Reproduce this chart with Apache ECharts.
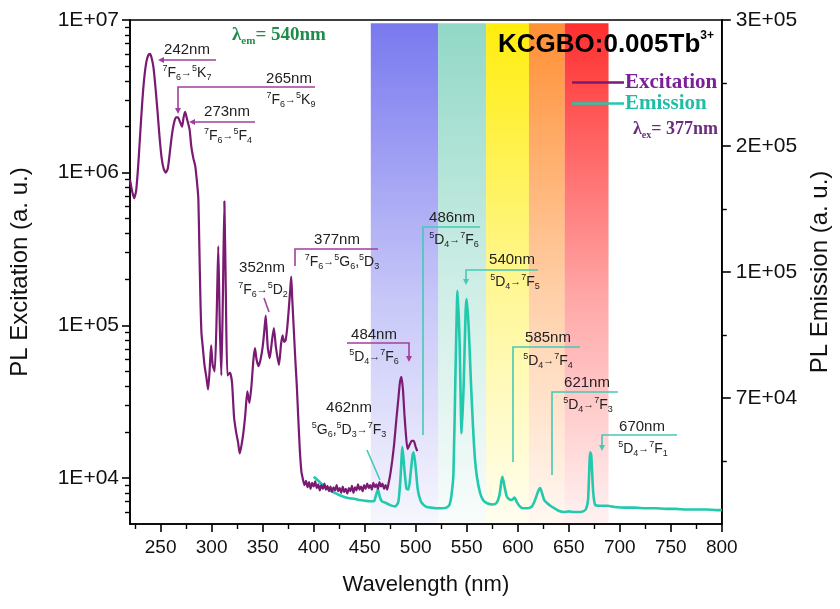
<!DOCTYPE html>
<html><head><meta charset="utf-8">
<script src="https://cdn.jsdelivr.net/npm/echarts@6/dist/echarts.min.js"></script>
<style>html,body{margin:0;padding:0;background:#fff}#c{width:840px;height:609px}</style>
</head><body><div id="c"></div>
<script>
// ---------- data ----------
const exWavelength = [220,222,224,226,228,230,232,234,236,238,239.5,241,243,245,247,249,251,253,255,257,259,261,263,265,267,269,271,272.5,274,275.5,277,278.5,280,282,284,286,287,288,289,290,291.5,293,295,296.5,298,299.5,301,303,305,306.5,308,309.5,311,312.5,314,315.5,318,320,322,324,326,327.5,329,331,333,335,337,339,341,342.5,344,346,348,350,351.5,353,355,357,359,361,363,366,368,369.5,371,372.5,374,375.5,377,378,379,380.5,382,383.5,385,386.5,388,389.5,391,392.5,394,395.5,397,398.5,400,401.5,403,404.5,406,407.5,409,410.5,412,413.5,415,416.5,418,419.5,421,422.5,424,425.5,427,428.5,430,431.5,433,434.5,436,437.5,439,440.5,442,443.5,445,446.5,448,449.5,451,452.5,454,455.5,457,458.5,460,461.5,463,464.5,466,467.5,469,470.5,472,473.5,475,477,479,481,483,484.5,486,487.5,489,490.5,492,494,496,498,500,501.5];
const exIntensity = [900000,760000,680000,760000,1100000,1800000,2900000,4200000,5300000,5900000,6000000,5700000,4900000,3600000,2500000,1700000,1250000,1060000,1000000,1060000,1350000,1750000,2100000,2300000,2300000,2150000,2000000,2300000,2500000,2300000,2100000,1900000,1500000,1250000,1100000,820000,670000,320000,150000,90000,70000,55000,45000,38000,50000,74000,55000,50000,120000,330000,100000,47000,150000,650000,150000,47000,49000,42000,25000,20000,17000,14500,16000,19500,26000,37000,31000,40000,60000,71000,60000,54000,60000,72000,90000,116000,72000,61000,78000,96000,72000,55000,75000,86000,78000,80000,95000,125000,170000,209000,150000,95000,60000,40000,24000,15000,11000,9800,9000,9600,8700,9400,8500,9300,8800,9500,8600,9100,8300,9000,8500,9200,8400,8900,8200,8800,8100,8700,8300,9000,8200,8600,8000,8800,8100,8500,7900,8600,8200,8900,8000,8700,8300,9100,8400,8800,8200,9000,8500,9200,8600,9000,8400,9300,8700,9100,8500,9400,8800,9200,8500,9000,8400,9300,10500,13000,17000,24000,33000,42000,46000,38000,26000,19000,15500,16500,17500,17500,16000,15000];

const emWavelength = [400,405,410,415,420,425,430,435,440,445,450,455,459,461,463,465,467,470,475,480,483,485,487,489,491,493,495,497,498,500,502,505,508,511,515,520,525,530,533,535,537,539,541,543,545,547,549,550,552,554,556,558,560,563,566,570,575,579,582,584,585,587,589,591,594,597,599,602,605,610,614,617,620,622,624,626,629,632,636,640,645,650,655,660,664,667,669,671,672,674,676,680,688,695,705,715,725,735,745,755,765,775,785,795,800];
const emIntensity = [0.75,0.68,0.60,0.54,0.50,0.46,0.43,0.41,0.40,0.38,0.37,0.36,0.36,0.45,0.55,0.42,0.36,0.34,0.30,0.28,0.35,0.70,1.22,0.85,0.56,0.55,0.80,1.10,1.14,0.90,0.55,0.36,0.30,0.27,0.26,0.25,0.25,0.26,0.30,0.45,0.80,2.40,3.70,2.90,1.44,2.20,3.40,3.57,3.10,2.30,1.60,1.05,0.75,0.50,0.38,0.33,0.31,0.33,0.45,0.68,0.75,0.60,0.45,0.40,0.38,0.42,0.35,0.28,0.25,0.25,0.28,0.38,0.52,0.57,0.48,0.38,0.33,0.29,0.25,0.21,0.19,0.20,0.19,0.19,0.20,0.24,0.40,1.14,1.10,0.50,0.30,0.29,0.29,0.27,0.26,0.26,0.25,0.25,0.24,0.24,0.23,0.23,0.23,0.22,0.22];

const xTickValues = [250,300,350,400,450,500,550,600,650,700,750,800];
const xMinorTickValues = [225,275,325,375,425,475,525,575,625,675,725,775];
const leftTickValues = [10000,100000,1000000,10000000];
const leftTickLabels = ['1E+04','1E+05','1E+06','1E+07'];
const leftMinorTickValues = [6000,7000,8000,9000,20000,30000,40000,50000,60000,70000,80000,90000,200000,300000,400000,500000,600000,700000,800000,900000,2000000,3000000,4000000,5000000,6000000,7000000,8000000,9000000];
const rightTickValues = [2,4,6,8];
const rightTickLabels = ['7E+04','1E+05','2E+05','3E+05'];
const rightMinorTickValues = [1,3,5,7];

const bandEdges = [456,522,569,611,646,689];
const bandColors = ['#7272ee','#8cd6c4','#ffec00','#ff8a2a','#ff2424'];

// ---------- build ----------
const exData = exWavelength.map((w,i)=>[w, exIntensity[i]]);
const emData = emWavelength.map((w,i)=>[w, emIntensity[i]]);

function hexA(hex,a){const n=parseInt(hex.slice(1),16);return `rgba(${n>>16},${(n>>8)&255},${n&255},${a})`;}
const bandAreas = bandColors.map((c,i)=>[
  {xAxis: bandEdges[i], yAxis: 7.95, itemStyle:{color:{type:'linear',x:0,y:0,x2:0,y2:1,colorStops:[{offset:0,color:hexA(c,0.95)},{offset:0.55,color:hexA(c,0.4)},{offset:1,color:hexA(c,0.06)}]}}},
  {xAxis: bandEdges[i+1], yAxis: 0}
]);

const EXC = '#7a1a72', EMI = '#22c9ad';
const EXA = '#a0409c', EMA = '#45c9b6';
const SANS = 'Liberation Sans, Arial, Helvetica, sans-serif';
const SERIF = 'Liberation Serif, Times New Roman, serif';

const richTr = {
  sup:{fontSize:9, verticalAlign:'top', fontFamily:SANS, fill:'#222', lineHeight:18},
  sub:{fontSize:9, verticalAlign:'bottom', fontFamily:SANS, fill:'#222', lineHeight:18},
  n:{fontSize:14, fontFamily:SANS, fill:'#222', lineHeight:18, verticalAlign:'middle'},
  a:{fontSize:11, fontFamily:SANS, fill:'#222', lineHeight:18, verticalAlign:'middle'}
};
function txt(x,y,text,opts){
  return {type:'text', x, y, z:50, style:Object.assign({text, fill:'#222', fontSize:15, fontFamily:SANS, align:'center', verticalAlign:'middle', rich:richTr}, opts||{})};
}
function line(points,color){
  return {type:'polyline', z:50, shape:{points}, style:{stroke:color, lineWidth:1.6, fill:null}};
}
function arrow(x,y,dir,color){
  let pts;
  if(dir==='down') pts=[[x-3,y-6],[x+3,y-6],[x,y]];
  else pts=[[x+6,y-3],[x+6,y+3],[x,y]];
  return {type:'polygon', z:50, shape:{points:pts}, style:{fill:color}};
}
const T = (a,b,c,d)=>`{sup|${a}}{n|${b}}{sub|${c}}{a|→}${d}`;

const graphics = [
  // excitation annotations
  txt(187,50,'242nm'), line([[160,60],[216,60]],EXA), arrow(158,60,'left',EXA),
  txt(187,73, T('7','F','6','{sup|5}{n|K}{sub|7}')),
  txt(289,79,'265nm'), line([[315,87],[178,87],[178,110]],EXA), arrow(178,114,'down',EXA),
  txt(291,100, T('7','F','6','{sup|5}{n|K}{sub|9}')),
  txt(227,112,'273nm'), line([[192,122],[255,122]],EXA), arrow(189,122,'left',EXA),
  txt(228,136, T('7','F','6','{sup|5}{n|F}{sub|4}')),
  txt(262,268,'352nm'), txt(263,290, T('7','F','6','{sup|5}{n|D}{sub|2}')),
  line([[264,298],[269,312]],EXA),
  txt(337,240,'377nm'), line([[378,249],[295,249],[295,266]],EXA),
  txt(342,262, T('7','F','6','{sup|5}{n|G}{sub|6}{n|,}{sup|5}{n|D}{sub|3}')),
  txt(374,335,'484nm'), line([[347,343],[409,343],[409,358]],EXA), arrow(409,362,'down',EXA),
  txt(374,357, T('5','D','4','{sup|7}{n|F}{sub|6}')),
  txt(349,408,'462nm'), txt(349,430, `{sup|5}{n|G}{sub|6}{n|,}{sup|5}{n|D}{sub|3}{a|→}{sup|7}{n|F}{sub|3}`),
  line([[367,450],[380,480]],EMA),
  // emission annotations
  txt(452,218,'486nm'), line([[480,227],[423,227],[423,435]],EMA),
  txt(454,240, T('5','D','4','{sup|7}{n|F}{sub|6}')),
  txt(512,260,'540nm'), line([[538,270],[466,270],[466,280]],EMA), arrow(466,285,'down',EMA),
  txt(515,282, T('5','D','4','{sup|7}{n|F}{sub|5}')),
  txt(548,338,'585nm'), line([[580,347],[513,347],[513,462]],EMA),
  txt(548,361, T('5','D','4','{sup|7}{n|F}{sub|4}')),
  txt(587,383,'621nm'), line([[618,392],[552,392],[552,475]],EMA),
  txt(588,405, T('5','D','4','{sup|7}{n|F}{sub|3}')),
  txt(642,427,'670nm'), line([[677,435],[602,435],[602,446]],EMA), arrow(602,451,'down',EMA),
  txt(643,449, T('5','D','4','{sup|7}{n|F}{sub|1}')),
  // title and lambda labels
  {type:'text', x:498, y:45, z:60, style:{text:'KCGBO:0.005Tb{s|3+}', fill:'#000', fontSize:26, fontWeight:'bold', fontFamily:SANS, align:'left', verticalAlign:'middle',
     rich:{s:{fontSize:12, fontWeight:'bold', verticalAlign:'top', lineHeight:31, fill:'#000', fontFamily:SANS}}}},
  {type:'text', x:633, y:129, z:60, style:{text:'λ{s|ex}= 377nm', fill:'#6e2a7e', fontSize:18, fontWeight:'bold', fontFamily:SERIF, align:'left', verticalAlign:'middle',
     rich:{s:{fontSize:10, fontWeight:'bold', verticalAlign:'bottom', lineHeight:23, fill:'#6e2a7e', fontFamily:SERIF}}}},
  {type:'text', x:232, y:35, z:60, style:{text:'λ{s|em}= 540nm', fill:'#1f8c4a', fontSize:19, fontWeight:'bold', fontFamily:SERIF, align:'left', verticalAlign:'middle',
     rich:{s:{fontSize:11, fontWeight:'bold', verticalAlign:'bottom', lineHeight:24, fill:'#1f8c4a', fontFamily:SERIF}}}}
];

const axisLineStyle = {color:'#000', width:1.6};
const option = {
  animation:false,
  backgroundColor:'#fff',
  grid:{left:130, right:107, top:20, bottom:85, show:true, borderColor:'#000', borderWidth:1.6, backgroundColor:'transparent'},
  legend:{
    orient:'vertical', left:567, top:67, itemGap:0, itemWidth:52, itemHeight:2.5, icon:'rect',
    data:[
      {name:'Excitation', textStyle:{color:'#7b1f9a'}},
      {name:'Emission', textStyle:{color:'#1fbfa6'}}
    ],
    textStyle:{fontFamily:SERIF, fontWeight:'bold', fontSize:21, lineHeight:19, padding:[0,0,0,-4]}
  },
  xAxis:[
    {type:'value', min:220, max:800, position:'bottom',
     axisLine:{show:true, onZero:false, lineStyle:axisLineStyle},
     axisTick:{show:true, inside:false, length:8, customValues:xTickValues, lineStyle:{color:'#000', width:1.6}},
     axisLabel:{customValues:xTickValues, fontSize:19, color:'#111', fontFamily:SANS, margin:14},
     splitLine:{show:false},
     name:'Wavelength (nm)', nameLocation:'middle', nameGap:50, nameTextStyle:{fontSize:22, color:'#111', fontFamily:SANS}},
    {type:'value', min:220, max:800, position:'bottom',
     axisLine:{show:false, onZero:false},
     axisTick:{show:true, inside:false, length:5, customValues:xMinorTickValues, lineStyle:{color:'#000', width:1.4}},
     axisLabel:{show:false}, splitLine:{show:false}}
  ],
  yAxis:[
    {type:'log', logBase:10, min:5000, max:10000000, position:'left',
     axisLine:{show:true, onZero:false, lineStyle:axisLineStyle},
     axisTick:{show:true, inside:false, length:8, customValues:leftTickValues, lineStyle:{color:'#000', width:1.6}},
     axisLabel:{customValues:leftTickValues, formatter:(v)=>leftTickLabels[leftTickValues.findIndex(t=>Math.abs(t-v)/t<1e-6)] || '', fontSize:21, color:'#111', fontFamily:SANS, margin:11},
     splitLine:{show:false}, minorTick:{show:false},
     name:'PL Excitation (a. u.)', nameLocation:'middle', nameGap:98, nameRotate:90, nameTextStyle:{fontSize:24, color:'#111', fontFamily:SANS}},
    {type:'value', min:0, max:8, position:'right',
     axisLine:{show:true, onZero:false, lineStyle:axisLineStyle},
     axisTick:{show:true, inside:false, length:9, customValues:rightTickValues, lineStyle:{color:'#000', width:1.6}},
     axisLabel:{customValues:rightTickValues, formatter:(v)=>rightTickLabels[rightTickValues.indexOf(Math.round(v))] || '', fontSize:21, color:'#111', fontFamily:SANS, margin:14},
     splitLine:{show:false},
     name:'PL Emission (a. u.)', nameLocation:'middle', nameGap:82, nameRotate:90, nameTextStyle:{fontSize:24, color:'#111', fontFamily:SANS}},
    {type:'log', logBase:10, min:5000, max:10000000, position:'left',
     axisLine:{show:false, onZero:false},
     axisTick:{show:true, inside:false, length:5, customValues:leftMinorTickValues, lineStyle:{color:'#000', width:1.4}},
     axisLabel:{show:false}, splitLine:{show:false}},
    {type:'value', min:0, max:8, position:'right',
     axisLine:{show:false, onZero:false},
     axisTick:{show:true, inside:false, length:5, customValues:rightMinorTickValues, lineStyle:{color:'#000', width:1.4}},
     axisLabel:{show:false}, splitLine:{show:false}}
  ],
  series:[
    {name:'Emission', type:'line', xAxisIndex:0, yAxisIndex:1, data:emData, showSymbol:false, symbol:'none', smooth:0.2,
     lineStyle:{color:EMI, width:2.6}, itemStyle:{color:EMI}, z:3,
     markArea:{silent:true, data:bandAreas}},
    {name:'Excitation', type:'line', xAxisIndex:0, yAxisIndex:0, data:exData, showSymbol:false, symbol:'none', smooth:0.2,
     lineStyle:{color:EXC, width:2.2}, itemStyle:{color:EXC}, z:4}
  ],
  graphic: graphics
};
const chart = echarts.init(document.getElementById('c'), null, {renderer:'canvas'});
chart.setOption(option);
</script></body></html>
